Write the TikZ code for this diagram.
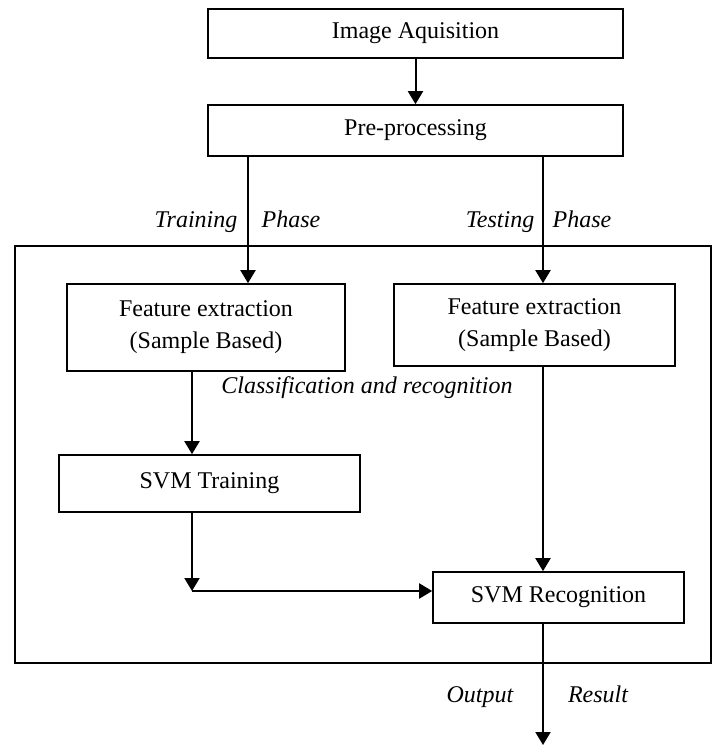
\documentclass[tikz,border=0pt]{standalone}
\usepackage{fontspec}
\setmainfont{Liberation Serif}
\usetikzlibrary{calc,arrows.meta}

\begin{document}
\begin{tikzpicture}[x=0.5pt,y=-0.5pt,
    stage/.style={draw, line width=0.8pt, inner sep=0pt, align=center, font=\fontsize{12}{16}\selectfont},
    flow/.style={-{Triangle[length=6.5pt,width=7.5pt]}, line width=1pt},
    phase/.style={anchor=base, font=\itshape\fontsize{12}{14}\selectfont}]

    \useasboundingbox (0,0) rectangle (713,746);

    % stages
    \node[stage, minimum width=207.5pt, minimum height=24.5pt] (acq) at (415.5,33.5) {Image Aquisition};
    \node[stage, minimum width=207.5pt, minimum height=25.5pt] (prep) at (415.5,130.5) {Pre-processing};
    \node[stage, minimum width=139pt, minimum height=43.5pt] (featTrain) at (206,327.5) {Feature extraction\\(Sample Based)};
    \node[stage, minimum width=140.5pt, minimum height=41pt] (featTest) at (534.5,325) {Feature extraction\\(Sample Based)};
    \node[stage, minimum width=150.5pt, minimum height=28.5pt] (svmTrain) at (209.5,483.5) {SVM Training};
    \node[stage, minimum width=125.5pt, minimum height=25.5pt] (svmRec) at (558.5,597.5) {SVM Recognition};

    % classification frame
    \draw[line width=1pt] (15,246) rectangle (711,663);
    \node[phase] (clsLabel) at (367,393) {Classification and recognition};

    % branch lines
    \coordinate (trainX) at (248,0);
    \coordinate (testX) at (543,0);
    \coordinate (svmX) at (192,0);
    \coordinate (join) at (192,591);
    \coordinate (outEnd) at (543,745);

    \node[phase] (trainL) at (196,227) {Training};
    \node[phase] (trainR) at (291,227) {Phase};
    \node[phase] (testL) at (500,227) {Testing};
    \node[phase] (testR) at (582,227) {Phase};
    \node[phase] (outL) at (480,702) {Output};
    \node[phase] (outR) at (598,702) {Result};

    % connectors
    \draw[flow] (acq) -- (prep);
    \draw[flow] (prep.south -| trainX) -- (featTrain.north -| trainX);
    \draw[flow] (prep.south -| testX) -- (featTest.north -| testX);
    \draw[flow] (featTrain.south -| svmX) -- (svmTrain.north -| svmX);
    \draw[flow] (svmTrain.south -| svmX) -- (join);
    \draw[flow] (join) -- (join -| svmRec.west);
    \draw[flow] (featTest.south -| testX) -- (svmRec.north -| testX);
    \draw[flow] (svmRec.south -| testX) -- (outEnd);
\end{tikzpicture}
\end{document}
